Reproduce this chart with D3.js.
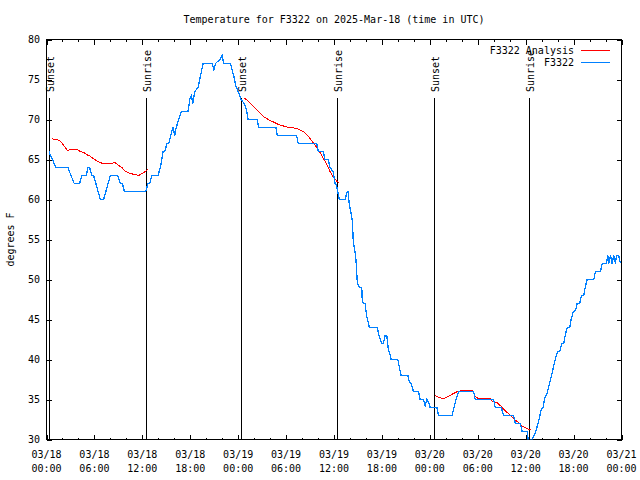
<!DOCTYPE html>
<html>
<head>
<meta charset="utf-8">
<script src="https://cdn.jsdelivr.net/npm/d3@7"></script>
<style>
  html, body { margin: 0; padding: 0; background: #fff; }
  svg { display: block; }
  text { font-family: "DejaVu Sans Mono", "Liberation Mono", monospace; font-size: 10px; fill: #000; }
</style>
</head>
<body>
<svg id="chart" width="640" height="480"></svg>
<script>
// ---------------- DATA ----------------
const chartTitle = "Temperature for F3322 on 2025-Mar-18 (time in UTC)";
const yAxisLabel = "degrees F";
const seriesNames = ["F3322 Analysis", "F3322"];

// Hours since 2025-03-18 00:00 UTC
const obsHours = [0.30, 1.17, 2.67, 3.47, 4.14, 4.43, 4.98, 5.18, 5.39, 5.68, 5.90, 6.74, 7.15, 7.99, 8.91, 9.24, 9.50, 9.75,
  12.42, 12.71, 12.92, 13.21, 13.96, 14.26, 14.59, 14.80, 15.09, 15.30, 15.55, 15.84, 16.06, 16.24, 16.56, 16.90, 17.72,
  17.94, 18.15, 18.31, 18.56, 18.98, 19.19, 19.61, 20.74, 20.95, 21.16, 21.70, 21.99, 22.20, 23.04, 23.24, 23.46, 23.71,
  24.00, 24.37, 24.75, 25.05, 25.25, 26.38, 26.56, 28.73, 28.89, 31.32, 31.52, 33.83, 34.03, 34.66, 34.87, 35.29, 35.50,
  35.88, 36.13, 36.34, 36.46, 36.67, 37.38, 37.67, 37.80, 37.88, 38.10, 38.30, 38.42, 38.63, 38.76, 38.92, 39.17, 39.48,
  39.55, 39.89, 40.10, 40.30, 40.43, 41.43, 41.56, 41.77, 41.98, 42.18, 42.40, 42.61, 42.81, 43.03, 43.15, 43.99, 44.19,
  44.41, 45.25, 45.45, 45.66, 45.95, 46.57, 46.79, 47.20, 47.42, 47.63, 47.86, 48.04, 48.88, 49.08, 50.77, 51.09, 51.27,
  51.60, 53.47, 53.69, 55.98, 56.19, 56.95, 57.24, 58.49, 58.70, 59.33, 59.55, 60.17, 60.34, 60.80, 61.21, 61.63, 61.93,
  62.18, 62.34, 62.68, 63.01, 63.31, 63.60, 63.85, 64.01, 64.26, 64.44, 64.56, 64.76, 64.89, 65.10, 65.26, 65.52, 65.69,
  65.94, 66.11, 66.36, 66.44, 66.77, 66.98, 67.27, 67.49, 67.70, 68.53, 68.74, 69.37, 69.58, 70.12, 70.28, 70.41, 70.62,
  70.83, 71.03, 71.25, 71.36, 71.65, 71.87];
const obsTempF = [66, 64, 64, 62, 62, 63, 63, 64, 64, 63, 63, 60, 60, 63, 63, 62, 62, 61,
  61, 62, 62, 63, 63, 64, 66, 66, 67, 67, 68, 69, 68, 69, 70, 71, 71,
  72.5, 73, 72, 73.5, 74, 75, 77, 77, 76.2, 77, 77.5, 78, 77, 77, 76.2, 75.4, 74.2,
  73.5, 72.5, 72, 71.2, 70, 70, 69, 69, 68, 68, 67, 67, 66, 66, 65, 65, 64,
  63.5, 62, 61.7, 61, 60, 60, 61, 61, 59.6, 58.5, 57.3, 54.6, 53.5, 52.3, 49.6, 49, 49,
  47.1, 47, 45.4, 44.6, 44, 44, 43.3, 42.6, 42, 42, 43, 43, 41.2, 40.6, 40, 40, 39,
  38, 38, 37.1, 37, 36, 36, 35, 35, 34.2, 35, 34.6, 34, 34, 33, 33, 34.2, 35,
  36, 36, 35, 35, 34, 34, 33, 33, 32, 32, 31, 31, 29.8, 30, 30.8, 32.3, 33.7,
  34, 35, 35.8, 37.1, 38.3, 39.6, 40.6, 41, 41, 41.7, 42, 42, 42.7, 43.7, 44, 44, 45,
  45.9, 46, 46.5, 47, 47, 48, 48, 49.2, 50, 50, 51, 51, 52, 52, 53, 52, 53,
  52, 53, 52, 53, 53, 52];

// Analysis series: null marks a break between nights
const anaHours = [0.66, 1.17, 1.63, 1.92, 2.35, 2.63, 2.97, 3.47, 3.80, 4.23, 4.64, 5.06, 5.48, 5.90, 6.31, 6.74, 7.15, 7.56,
  7.99, 8.62, 9.03, 9.45, 9.87, 10.50, 11.13, 11.54, 11.95, 12.38, 12.71, 18.0,
  24.75, 25.25, 25.88, 26.51, 27.13, 27.76, 28.39, 29.01, 29.64, 30.27, 30.90, 31.52, 32.15, 32.78, 33.40, 34.03, 34.53,
  35.09, 35.50, 35.91, 36.34, 36.63, 42.0,
  48.67, 49.17, 49.71, 50.34, 50.97, 51.59, 52.22, 53.35, 53.69, 54.10, 55.57, 55.78, 56.41, 56.82, 57.24, 57.66, 58.08,
  58.49, 59.12, 59.55, 59.96, 60.37, 60.71];
const anaTempF = [67.6, 67.5, 67.4, 67.1, 66.5, 66.1, 66.25, 66.3, 66.25, 66.0, 65.9, 65.6, 65.4, 65.1, 64.8, 64.6, 64.5, 64.5,
  64.5, 64.6, 64.25, 64.0, 63.5, 63.25, 63.1, 63.0, 63.25, 63.5, 63.75, null,
  72.7, 72.3, 71.7, 71.0, 70.4, 70.0, 69.7, 69.4, 69.2, 69.0, 68.95, 68.8, 68.5, 67.9, 67.1, 66.25, 65.4,
  64.4, 63.5, 62.8, 62.3, 62.1, null,
  35.5, 35.25, 35.1, 35.4, 35.75, 36.05, 36.1, 36.1, 35.4, 35.1, 35.1, 34.8, 34.6, 34.25, 33.8, 33.4, 33.0,
  32.6, 32.1, 31.7, 31.45, 31.3, 31.3];

const sunsetHours = [0.29, 24.37, 48.46];
const sunriseHours = [12.42, 36.41, 60.38];
const yTickValues = [30, 35, 40, 45, 50, 55, 60, 65, 70, 75, 80];

// ---------------- LAYOUT ----------------
const startMs = Date.UTC(2025, 2, 18, 0, 0);
const toDate = h => new Date(startMs + h * 3600e3);
const L = 46.5, R = 621.5, T = 39.5, B = 439.5;

const svg = d3.select("#chart");
const x = d3.scaleUtc().domain([toDate(0), toDate(72)]).range([L, R]);
const y = d3.scaleLinear().domain([30, 80]).range([B, T]);

const blue = "#0080ff", red = "#ff0000";

// Title
svg.append("text").attr("x", (L + R) / 2).attr("y", 23).attr("text-anchor", "middle").text(chartTitle);

// Y label
svg.append("text").attr("transform", `translate(14,${(T + B) / 2}) rotate(-90)`)
  .attr("text-anchor", "middle").text(yAxisLabel);

// Axes
const majorTicks = d3.utcHour.every(6).range(toDate(0), toDate(72.01));
const minorTicks = d3.utcHour.every(2).range(toDate(0), toDate(72.01));
const fmtDate = d3.utcFormat("%m/%d"), fmtTime = d3.utcFormat("%H:%M");

const axisG = svg.append("g").attr("shape-rendering", "crispEdges");
const xAxisBottom = d3.axisBottom(x).tickValues(majorTicks).tickSize(-5).tickFormat("");
const gxb = axisG.append("g").attr("transform", `translate(0,${B})`).call(xAxisBottom);
const xAxisTop = d3.axisTop(x).tickValues(majorTicks).tickSize(-5).tickFormat("");
const gxt = axisG.append("g").attr("transform", `translate(0,${T})`).call(xAxisTop);
const xMinB = d3.axisBottom(x).tickValues(minorTicks).tickSize(-2).tickFormat("");
const gmb = axisG.append("g").attr("transform", `translate(0,${B})`).call(xMinB);
const xMinT = d3.axisTop(x).tickValues(minorTicks).tickSize(-2).tickFormat("");
const gmt = axisG.append("g").attr("transform", `translate(0,${T})`).call(xMinT);
const yAxisL = d3.axisLeft(y).tickValues(yTickValues).tickSize(-5).tickFormat("");
const gyl = axisG.append("g").attr("transform", `translate(${L},0)`).call(yAxisL);
const yAxisR = d3.axisRight(y).tickValues(yTickValues).tickSize(-5).tickFormat("");
const gyr = axisG.append("g").attr("transform", `translate(${R},0)`).call(yAxisR);
[gxb, gxt, gmb, gmt, gyl, gyr].forEach(g => {
  g.select(".domain").remove();
  g.selectAll("line").attr("stroke", "#000");
});

// tick labels
const xl = svg.append("g");
majorTicks.forEach(d => {
  const t = xl.append("text").attr("text-anchor", "middle").attr("x", x(d));
  t.append("tspan").attr("x", x(d)).attr("y", 458).text(fmtDate(d));
  t.append("tspan").attr("x", x(d)).attr("y", 472).text(fmtTime(d));
});
svg.append("g").selectAll("text").data(yTickValues).join("text")
  .attr("x", 40).attr("y", d => y(d) + 3.5).attr("text-anchor", "end").text(d => d);

// border
axisG.append("rect").attr("x", L).attr("y", T).attr("width", R - L).attr("height", B - T)
  .attr("fill", "none").attr("stroke", "#000");

// clip
svg.append("clipPath").attr("id", "clip").append("rect")
  .attr("x", L).attr("y", T).attr("width", R - L).attr("height", B - T);

// Sunset / sunrise lines
const sunG = svg.append("g");
const sunEvents = sunsetHours.map(h => ({h, label: "Sunset"}))
  .concat(sunriseHours.map(h => ({h, label: "Sunrise"})));
sunEvents.forEach(e => {
  const px = Math.round(x(toDate(e.h))) + 0.5;
  sunG.append("line").attr("x1", px).attr("x2", px).attr("y1", 98).attr("y2", B)
    .attr("stroke", "#000").attr("shape-rendering", "crispEdges");
  sunG.append("text").attr("transform", `translate(${px + 4},92) rotate(-90)`)
    .attr("text-anchor", "start").text(e.label);
});

// Data lines
const dataG = svg.append("g").attr("clip-path", "url(#clip)");
const anaData = anaHours.map((h, i) => ({d: toDate(h), t: anaTempF[i]}));
const obsData = obsHours.map((h, i) => ({d: toDate(h), t: obsTempF[i]}));
const line = d3.line().defined(p => p.t != null).x(p => x(p.d)).y(p => y(p.t));
dataG.append("path").datum(anaData).attr("d", line).attr("fill", "none")
  .attr("stroke", red).attr("stroke-width", 1).attr("shape-rendering", "crispEdges");
dataG.append("path").datum(obsData).attr("d", line).attr("fill", "none")
  .attr("stroke", blue).attr("stroke-width", 1.3).attr("shape-rendering", "crispEdges");

// Legend
const legend = svg.append("g");
[[seriesNames[0], red, 50], [seriesNames[1], blue, 62.5]].forEach(([name, col, ly]) => {
  legend.append("text").attr("x", 574).attr("y", ly + 3.5).attr("text-anchor", "end").text(name);
  legend.append("line").attr("x1", 581).attr("x2", 610).attr("y1", Math.floor(ly) + 0.5).attr("y2", Math.floor(ly) + 0.5)
    .attr("stroke", col).attr("shape-rendering", "crispEdges");
});
</script>
</body>
</html>
